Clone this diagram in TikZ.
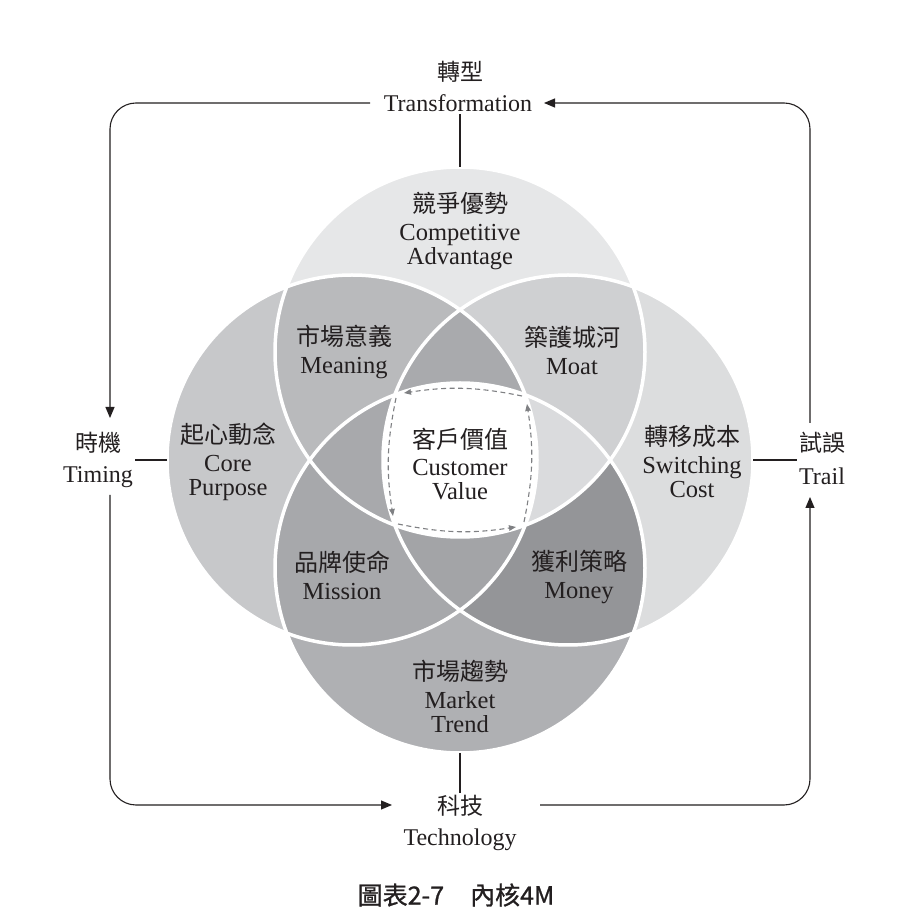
\documentclass[tikz,border=0pt]{standalone}
\usepackage{fontspec}
\setmainfont{Liberation Serif}
\newfontfamily\cjk{Noto Sans CJK TC}
\newfontfamily\cjkcap[FakeBold=1]{Noto Sans CJK TC}
\usetikzlibrary{arrows.meta}
\definecolor{ink}{HTML}{231F20}
\definecolor{cT}{HTML}{E6E7E8}
\definecolor{cL}{HTML}{C7C8CA}
\definecolor{cR}{HTML}{DCDDDE}
\definecolor{cB}{HTML}{AFB0B3}
\definecolor{cTL}{HTML}{B9BABC}
\definecolor{cTR}{HTML}{CFD0D2}
\definecolor{cLB}{HTML}{A7A8AB}
\definecolor{cRB}{HTML}{949598}
\definecolor{cTLR}{HTML}{A9AAAD}
\definecolor{cTLB}{HTML}{A8A9AC}
\definecolor{cTRB}{HTML}{DADBDD}
\definecolor{cLRB}{HTML}{A3A4A7}
\definecolor{dashc}{HTML}{7F8083}
\newcommand\zhtxt[1]{{\cjk\fontsize{24}{24}\selectfont #1}}
\tikzset{
  lbl/.style={align=center, font=\fontsize{24.5}{24}\selectfont, text=ink, inner sep=2pt},
  outer/.style={font=\fontsize{24}{24}\selectfont, text=ink, inner sep=2pt},
  outerzh/.style={font=\cjk\fontsize{23}{24}\selectfont, text=ink, inner sep=2pt},
  ring/.style={draw=white, line width=3.5pt},
  anch/.style={circle, minimum size=370pt, inner sep=0pt, outer sep=0pt},
  link/.style={draw=ink, line width=1.1pt},
  looparrow/.style={draw=ink, line width=1.1pt, rounded corners=26pt, -{Triangle[length=11pt,width=9pt]}},
  dashloop/.style={draw=dashc, line width=1.1pt, dash pattern=on 5pt off 3.5pt, -{Triangle[length=7pt,width=5.5pt]}}
}
\begin{document}
\begin{tikzpicture}[x=1pt,y=1pt]
\useasboundingbox (0,0) rectangle (910,914);
\fill[white] (0,0) rectangle (910,914);
\def\R{185}
\coordinate (T) at (460,562);
\coordinate (L) at (352,454);
\coordinate (Rc) at (568,454);
\coordinate (B) at (460,346);
% single regions
\fill[cT] (T) circle (\R);
\fill[cL] (L) circle (\R);
\fill[cR] (Rc) circle (\R);
\fill[cB] (B) circle (\R);
% pairs
\begin{scope}\clip (T) circle (\R); \fill[cTL] (L) circle (\R);\end{scope}
\begin{scope}\clip (T) circle (\R); \fill[cTR] (Rc) circle (\R);\end{scope}
\begin{scope}\clip (L) circle (\R); \fill[cLB] (B) circle (\R);\end{scope}
\begin{scope}\clip (Rc) circle (\R); \fill[cRB] (B) circle (\R);\end{scope}
% triples
\begin{scope}\clip (T) circle (\R); \clip (L) circle (\R); \fill[cTLR] (Rc) circle (\R);\end{scope}
\begin{scope}\clip (T) circle (\R); \clip (L) circle (\R); \fill[cTLB] (B) circle (\R);\end{scope}
\begin{scope}\clip (T) circle (\R); \clip (Rc) circle (\R); \fill[cTRB] (B) circle (\R);\end{scope}
\begin{scope}\clip (L) circle (\R); \clip (Rc) circle (\R); \fill[cLRB] (B) circle (\R);\end{scope}
% all four
\begin{scope}\clip (T) circle (\R); \clip (L) circle (\R); \clip (Rc) circle (\R); \fill[white] (B) circle (\R);\end{scope}
% white outlines
\draw[ring] (T) circle (\R);
\draw[ring] (L) circle (\R);
\draw[ring] (Rc) circle (\R);
\draw[ring] (B) circle (\R);
% anchor nodes for circles
\node[anch] (ct) at (T) {};
\node[anch] (cl) at (L) {};
\node[anch] (cr) at (Rc) {};
\node[anch] (cb) at (B) {};
% central dashed loop (centre 460,454)
\coordinate (d1s) at (522,518); \coordinate (d1e) at (404,521);
\coordinate (d2s) at (396,516); \coordinate (d2e) at (393,398);
\coordinate (d3s) at (398,390); \coordinate (d3e) at (516,387);
\coordinate (d4s) at (524,392); \coordinate (d4e) at (527,510);
\draw[dashloop] (d1s) to[bend right=10] (d1e);
\draw[dashloop] (d2s) to[bend right=10] (d2e);
\draw[dashloop] (d3s) to[bend right=10] (d3e);
\draw[dashloop] (d4s) to[bend right=10] (d4e);
% circle labels
\node[lbl] (adv) at (460,683) {\zhtxt{競爭優勢}\\[4pt]Competitive\\Advantage};
\node[lbl] (mean) at (344,562) {\zhtxt{市場意義}\\[4pt]Meaning};
\node[lbl] (moat) at (572,564) {\zhtxt{築護城河}\\[4pt]Moat};
\node[lbl] (core) at (228,452) {\zhtxt{起心動念}\\[4pt]Core\\Purpose};
\node[lbl] (cust) at (460,450) {\zhtxt{客戶價值}\\[4pt]Customer\\Value};
\node[lbl] (switch) at (692,452) {\zhtxt{轉移成本}\\[4pt]Switching\\Cost};
\node[lbl] (miss) at (342,339) {\zhtxt{品牌使命}\\[4pt]Mission};
\node[lbl] (money) at (579,337) {\zhtxt{獲利策略}\\[4pt]Money};
\node[lbl] (trend) at (460,218) {\zhtxt{市場趨勢}\\[4pt]Market\\Trend};
% outer labels
\node[outerzh] (tz) at (460,842) {轉型};
\node[outer] (trans) at (458,811) {Transformation};
\node[outerzh] (jishi) at (98,471) {時機};
\node[outer] (timing) at (98,437) {Timing};
\node[outerzh] (shiwu) at (822,471) {試誤};
\node[outer] (trail) at (822,438) {Trail};
\node[outerzh] (keji) at (460,108) {科技};
\node[outer] (tech) at (460,74) {Technology};
\node[font=\cjkcap\fontsize{25}{26}\selectfont, text=ink] (cap) at (456,19) {圖表2-7\hspace{26pt}內核4M};
% short connectors
\draw[link] (ct.north) -- (trans.south -| ct.north);
\draw[link] (cl.west) -- (cl.west -| timing.east);
\draw[link] (cr.east) -- (cr.east -| trail.west);
\draw[link] (cb.south) -- (keji.north);
% outer loop
\coordinate (tStart) at (370,811);
\coordinate (lArrow) at (110,496);
\coordinate (lStart) at (110,419);
\coordinate (bArrow) at (392,109);
\coordinate (bStart) at (540,109);
\coordinate (rArrow) at (810,417);
\coordinate (rStart) at (810,491);
\coordinate (tArrow) at (544,811);
\draw[looparrow] (tStart) -| (lArrow);
\draw[looparrow] (lStart) |- (bArrow);
\draw[looparrow] (bStart) -| (rArrow);
\draw[looparrow] (rStart) |- (tArrow);
\end{tikzpicture}
\end{document}
